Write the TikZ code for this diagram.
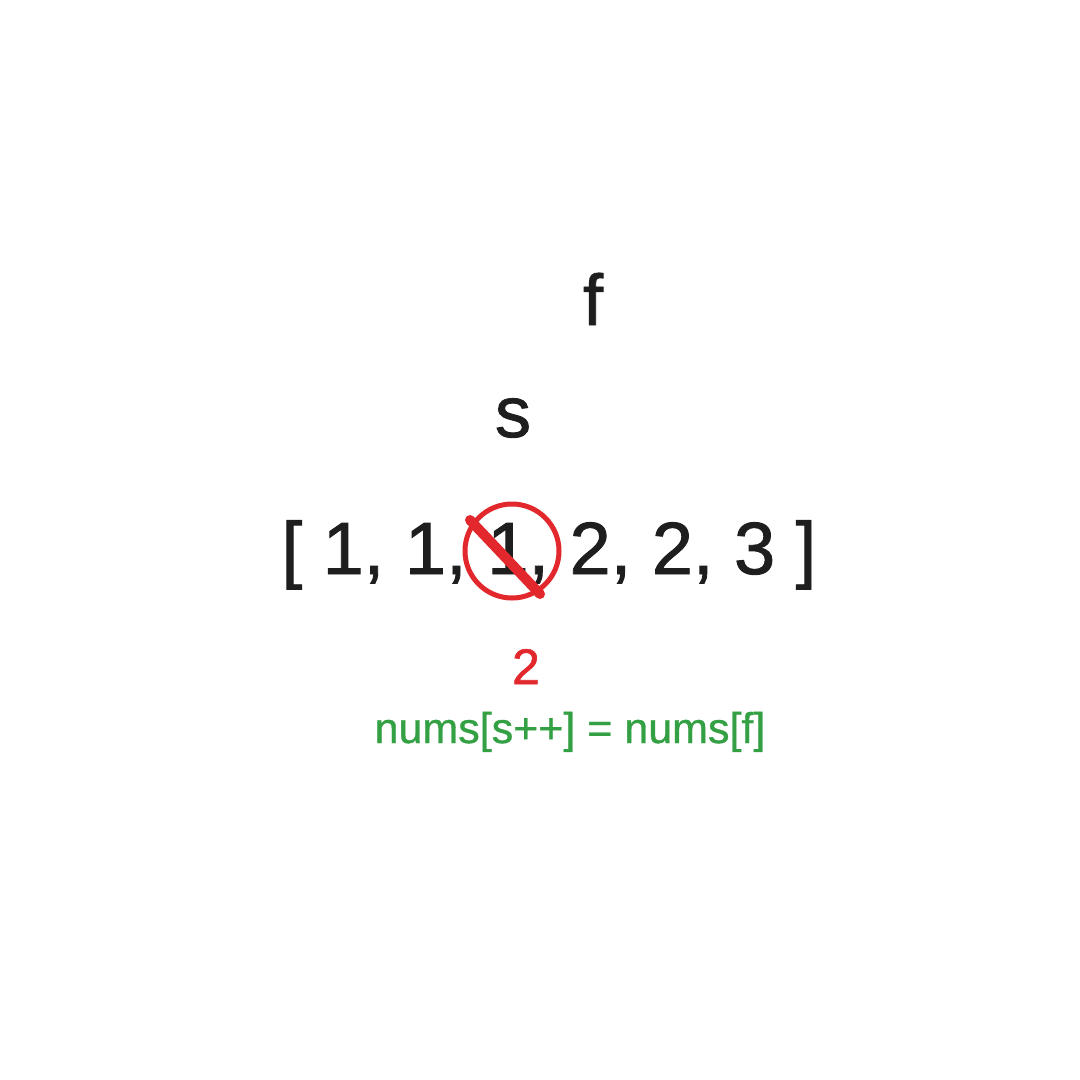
\documentclass[tikz,border=0pt]{standalone}
\usepackage{fontspec}
\setmainfont{Liberation Sans}
\newfontfamily\heavyfont[FakeBold=1.2]{Liberation Sans}
\newfontfamily\midfont[FakeBold=0.8]{Liberation Sans}
\definecolor{redmark}{RGB}{226,40,44}
\definecolor{codegreen}{RGB}{52,160,68}
\definecolor{ink}{RGB}{30,30,30}
\begin{document}
\begin{tikzpicture}[x=1pt,y=-1pt,
  bigtxt/.style={inner sep=0pt,anchor=base,text=ink,font=\heavyfont\fontsize{74}{74}\selectfont},
  ptr/.style={inner sep=0pt,anchor=base,text=ink,font=\heavyfont\fontsize{72}{72}\selectfont},
  redtxt/.style={inner sep=0pt,anchor=base,text=redmark,font=\heavyfont\fontsize{50}{50}\selectfont},
  codetxt/.style={inner sep=0pt,anchor=base,text=codegreen,font=\midfont\fontsize{43}{43}\selectfont}]
\useasboundingbox (0,0) rectangle (1080,1080);
\fill[white] (0,0) rectangle (1080,1080);
\node[ptr] (f) at (593,325) {f};
\node[ptr] (s) at (513,437) {s};
\node[bigtxt] (arr) at (549,574) {[ 1, 1, 1, 2, 2, 3 ]};
\node[draw=redmark,line width=5pt,circle,minimum size=94pt,inner sep=0pt] (ring) at (512,551) {};
\coordinate (slashA) at (470,520);
\coordinate (slashB) at (540,594);
\draw[draw=redmark,line width=10pt,line cap=round] (slashA) -- (slashB);
\node[redtxt] (two) at (526,684) {2};
\node[codetxt] (code) at (570,743) {nums[s++] = nums[f]};
\end{tikzpicture}
\end{document}
